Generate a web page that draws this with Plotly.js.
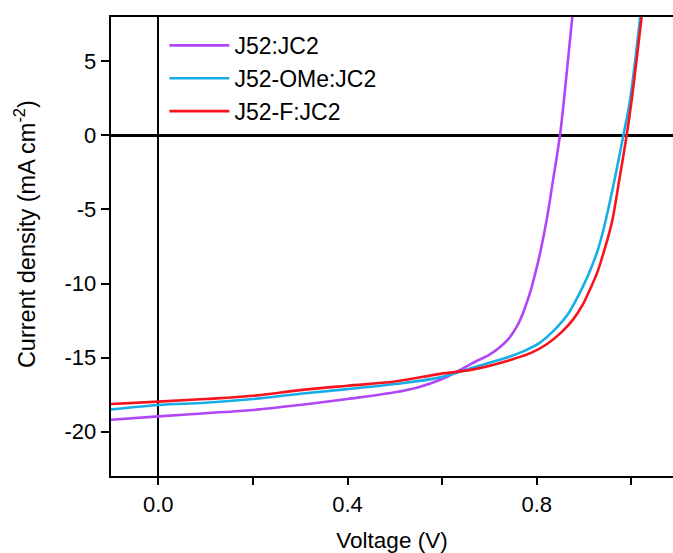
<!DOCTYPE html>
<html>
<head>
<meta charset="utf-8">
<script src="https://cdn.plot.ly/plotly-3.0.1.min.js"></script>
<style>html,body{margin:0;padding:0;background:#fff;}#chart{width:673px;height:553px;}</style>
</head>
<body>
<div id="chart"></div>
<script>
// Series names
const seriesNames = ["J52:JC2", "J52-OMe:JC2", "J52-F:JC2"];

// J52:JC2 (purple)
const vJ52 = [-0.1, 0, 0.1, 0.2, 0.3, 0.4, 0.5, 0.55, 0.6, 0.631, 0.666, 0.7, 0.72, 0.74, 0.758, 0.772, 0.786, 0.797, 0.807, 0.821, 0.835, 0.849, 0.862, 0.876];
const jJ52 = [-19.2, -18.97, -18.76, -18.54, -18.2, -17.8, -17.35, -17.0, -16.45, -15.95, -15.35, -14.8, -14.35, -13.75, -12.9, -11.9, -10.6, -9.3, -7.95, -5.7, -2.9, 0, 3.8, 8.3];

// J52-OMe:JC2 (blue)
const vOMe = [-0.1, 0, 0.1, 0.2, 0.3, 0.4, 0.5, 0.596, 0.666, 0.7, 0.737, 0.77, 0.807, 0.84, 0.863, 0.88, 0.898, 0.913, 0.927, 0.937, 0.946, 0.965, 0.983, 0.997, 1.02];
const jOMe = [-18.5, -18.2, -18.05, -17.8, -17.45, -17.13, -16.79, -16.34, -15.67, -15.35, -15.0, -14.6, -13.99, -13.05, -12.2, -11.3, -10.18, -9.1, -7.94, -6.85, -5.69, -2.9, 0, 2.37, 8.4];

// J52-F:JC2 (red)
const vF = [-0.1, 0, 0.1, 0.2, 0.3, 0.4, 0.5, 0.596, 0.666, 0.7505, 0.79, 0.821, 0.852, 0.877, 0.896, 0.9125, 0.928, 0.941, 0.951, 0.96, 0.975, 0.99, 1.0006, 1.023];
const jF = [-18.14, -17.98, -17.8, -17.58, -17.2, -16.9, -16.62, -16.1, -15.8, -15.1, -14.65, -14.1, -13.3, -12.42, -11.5, -10.4, -9.25, -7.94, -6.85, -5.69, -2.9, 0, 2.37, 8.4];

// Tick labels
const xTickVals = [0, 0.4, 0.8];
const xTickText = ["0.0", "0.4", "0.8"];
const xMinorVals = [0.2, 0.6, 1.0];
const yTickVals = [5, 0, -5, -10, -15, -20];
const yTickText = ["5", "0", "-5", "-10", "-15", "-20"];

const colors = ["#b146f7", "#17aee8", "#f7141f"];
const font = "Liberation Sans, Arial, sans-serif";

const xs = [vJ52, vOMe, vF];
const ys = [jJ52, jOMe, jF];
const traces = seriesNames.map((n, i) => ({
  x: xs[i], y: ys[i], name: n, type: "scatter", mode: "lines",
  line: {color: colors[i], width: 2.6, shape: "spline", smoothing: 1.0}
}));

const layout = {
  width: 673, height: 553,
  margin: {l: 111, r: 0, t: 17, b: 77},
  paper_bgcolor: "#fff", plot_bgcolor: "#fff",
  font: {family: font, color: "#000", size: 22},
  showlegend: true,
  legend: {x: 0.095, y: 0.985, xanchor: "left", yanchor: "top",
    bgcolor: "rgba(0,0,0,0)", font: {family: font, size: 23, color: "#000"},
    itemwidth: 60, tracegroupgap: 0},
  xaxis: {
    range: [-0.1, 1.088], showgrid: false,
    showline: true, linecolor: "#000", linewidth: 2.2, mirror: true,
    zeroline: true, zerolinecolor: "#000", zerolinewidth: 2.2,
    tickmode: "array", tickvals: xTickVals, ticktext: xTickText,
    ticks: "outside", ticklen: 7, tickwidth: 2, tickcolor: "#000",
    minor: {tickmode: "array", tickvals: xMinorVals, ticks: "outside", ticklen: 7, tickwidth: 2, tickcolor: "#000", showgrid: false},
    tickfont: {family: font, size: 22, color: "#000"},
    title: {text: "Voltage (V)", font: {family: font, size: 22.5, color: "#000"}, standoff: 18}
  },
  yaxis: {
    range: [-23, 8], showgrid: false,
    showline: true, linecolor: "#000", linewidth: 2.4, mirror: false,
    zeroline: true, zerolinecolor: "#000", zerolinewidth: 2.2,
    tickmode: "array", tickvals: yTickVals, ticktext: yTickText,
    ticks: "outside", ticklen: 8, tickwidth: 2, tickcolor: "#000",
    tickfont: {family: font, size: 22, color: "#000"}
  },
  annotations: [{
    text: "Current density (mA cm<sup>-2</sup>)", textangle: -90,
    xref: "paper", yref: "paper", x: -0.153, y: 0.527,
    xanchor: "center", yanchor: "middle", showarrow: false,
    font: {family: font, size: 23.5, color: "#000"}
  }]
};

Plotly.newPlot("chart", traces, layout, {displayModeBar: false, staticPlot: true});
</script>
</body>
</html>
